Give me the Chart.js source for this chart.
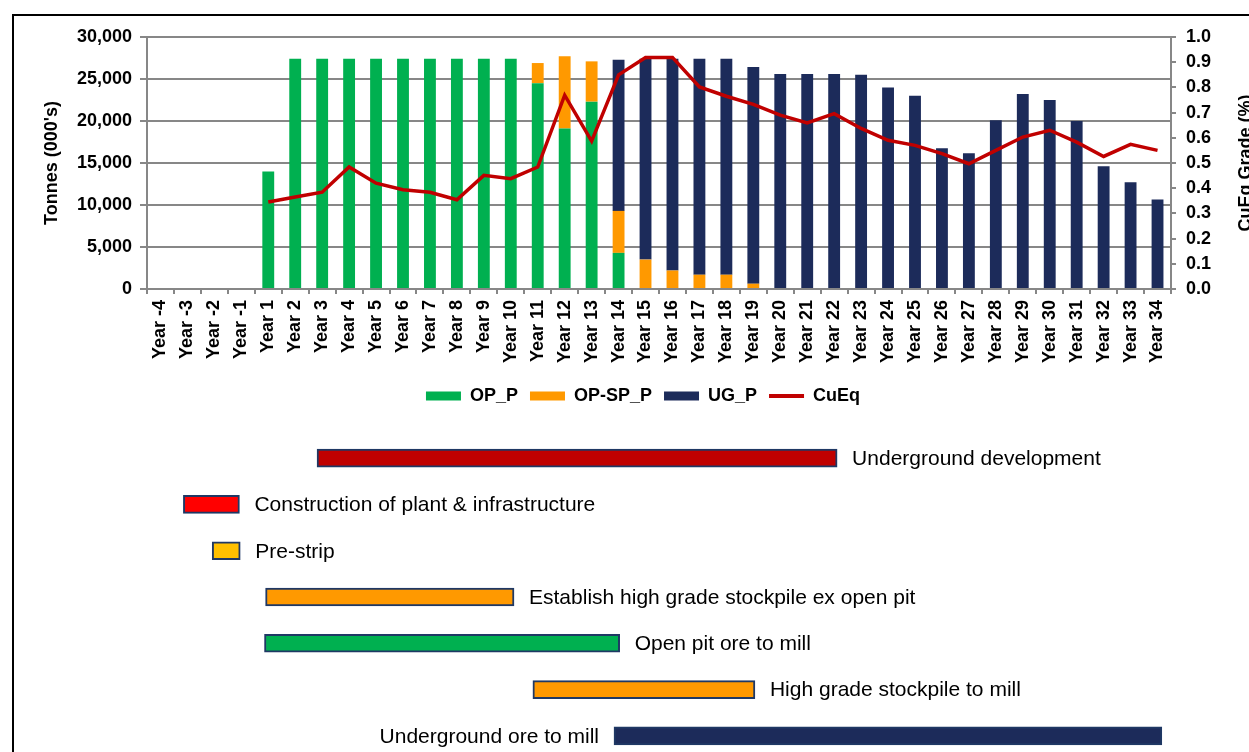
<!DOCTYPE html>
<html>
<head>
<meta charset="utf-8">
<script src="https://cdn.jsdelivr.net/npm/chart.js@4/dist/chart.umd.min.js"></script>
<style>
  html, body { margin: 0; padding: 0; background: #fff; width: 1249px; height: 752px; overflow: hidden; }
  #frame { position: absolute; left: 12px; top: 14px; width: 1300px; height: 800px; border: 2px solid #000; box-sizing: border-box; }
  #top { position: absolute; left: 0; top: 0; }
  #gantt { position: absolute; left: 0; top: 430px; }
</style>
</head>
<body>
<div id="frame"></div>
<canvas id="top" width="1249" height="420"></canvas>
<canvas id="gantt" width="1249" height="330"></canvas>
<script>
// ---------- data ----------
const years = ['Year -4','Year -3','Year -2','Year -1','Year 1','Year 2','Year 3','Year 4','Year 5','Year 6','Year 7','Year 8','Year 9','Year 10','Year 11','Year 12','Year 13','Year 14','Year 15','Year 16','Year 17','Year 18','Year 19','Year 20','Year 21','Year 22','Year 23','Year 24','Year 25','Year 26','Year 27','Year 28','Year 29','Year 30','Year 31','Year 32','Year 33','Year 34'];

const opP   = [0,0,0,0, 14000,27400,27400,27400,27400,27400,27400,27400,27400,27400, 24500,19100,22300,4300, 0,0,0,0,0, 0,0,0,0,0,0,0,0,0,0,0,0,0,0,0];
const opSpP = [0,0,0,0, 0,0,0,0,0,0,0,0,0,0, 2400,8600,4800,5000, 3500,2200,1700,1700,630, 0,0,0,0,0,0,0,0,0,0,0,0,0,0,0];
const ugP   = [0,0,0,0, 0,0,0,0,0,0,0,0,0,0, 0,0,0,18000, 23900,25200,25700,25700,25800, 25600,25600,25600,25500,24000,23000,16750,16150,20100,23200,22500,20000,14600,12700,10660];
const cuEq  = [null,null,null,null, 0.345,0.365,0.384,0.484,0.420,0.394,0.384,0.354,0.451,0.438,0.484,0.769,0.587,0.850,0.919,0.919,0.802,0.765,0.733,0.690,0.659,0.696,0.637,0.590,0.570,0.537,0.497,0.550,0.603,0.630,0.583,0.526,0.574,0.550];

const seriesNames = ['OP_P', 'OP-SP_P', 'UG_P', 'CuEq'];
const leftAxisTitle = "Tonnes (000's)";
const rightAxisTitle = 'CuEq Grade (%)';

// Gantt schedule (positions in year-column units of the chart above)
const ganttTasks = ['Underground development','Construction of plant & infrastructure','Pre-strip','Establish high grade stockpile ex open pit','Open pit ore to mill','High grade stockpile to mill','Underground ore to mill'];
const ganttStart = [6.31, 1.35, 2.42, 4.40, 4.36, 14.32, 17.33];
const ganttEnd   = [25.61, 3.43, 3.46, 13.62, 17.54, 22.56, 37.66];
const ganttLabelSide = ['right','right','right','right','right','right','left'];

// ---------- styles ----------
const FONT = "'Liberation Sans', Arial, sans-serif";
const GREEN = '#00B050', ORANGE = '#FF9900', NAVY = '#1C2B5A', DARKRED = '#C00000';
const GRID = '#878787';
const ganttColors = [DARKRED, '#FF0000', '#FFC000', ORANGE, GREEN, ORANGE, NAVY];

Chart.defaults.font.family = FONT;
Chart.defaults.color = '#000';

const rightTitlePlugin = {
  id: 'rightTitle',
  afterDraw(chart) {
    const ctx = chart.ctx, a = chart.chartArea;
    ctx.save();
    ctx.font = 'bold 18px ' + FONT;
    ctx.fillStyle = '#000';
    ctx.textAlign = 'center';
    ctx.textBaseline = 'middle';
    ctx.translate(1246, (a.top + a.bottom) / 2);
    ctx.rotate(-Math.PI / 2);
    ctx.fillText(rightAxisTitle, 0, 0);
    ctx.restore();
  }
};

new Chart(document.getElementById('top'), {
  type: 'bar',
  data: {
    labels: years,
    datasets: [
      { label: seriesNames[0], data: opP, backgroundColor: GREEN, yAxisID: 'y', order: 1, stack: 's' },
      { label: seriesNames[1], data: opSpP, backgroundColor: ORANGE, yAxisID: 'y', order: 1, stack: 's' },
      { label: seriesNames[2], data: ugP, backgroundColor: NAVY, yAxisID: 'y', order: 1, stack: 's' },
      { label: seriesNames[3], data: cuEq, type: 'line', borderColor: DARKRED, backgroundColor: DARKRED,
        borderWidth: 3.5, pointRadius: 0, tension: 0, yAxisID: 'y1', order: 0, spanGaps: false }
    ]
  },
  options: {
    responsive: false,
    animation: false,
    devicePixelRatio: 1,
    layout: { padding: { left: 37, right: 0, top: 37, bottom: 5 } },
    datasets: { bar: { categoryPercentage: 1, barPercentage: 0.44 } },
    scales: {
      x: {
        stacked: true,
        offset: true,
        grid: { offset: true, drawOnChartArea: false, color: GRID, lineWidth: 2, tickLength: 5 },
        border: { display: true, color: GRID, width: 2 },
        ticks: { autoSkip: false, minRotation: 90, maxRotation: 90, padding: 6, font: { size: 18, weight: 'bold' }, color: '#000' },
        afterFit(s) { s.height = 86; }
      },
      y: {
        position: 'left',
        stacked: true,
        min: 0, max: 30000,
        ticks: { stepSize: 5000, padding: 8, font: { size: 18, weight: 'bold' }, color: '#000',
                 callback: v => Number(v).toLocaleString('en-US') },
        grid: { color: GRID, lineWidth: 2, tickLength: 7 },
        border: { display: true, color: GRID, width: 2 },
        title: { display: true, text: leftAxisTitle, font: { size: 18, weight: 'bold' }, color: '#000' },
        afterFit(s) { s.width = 110; }
      },
      y1: {
        position: 'right',
        min: 0, max: 1,
        ticks: { stepSize: 0.1, padding: 10, font: { size: 18, weight: 'bold' }, color: '#000',
                 callback: v => Number(v).toFixed(1) },
        grid: { drawOnChartArea: false, color: GRID, lineWidth: 2, tickLength: 5 },
        border: { display: true, color: GRID, width: 2 },
        afterFit(s) { s.width = 78; }
      }
    },
    plugins: {
      legend: {
        position: 'bottom',
        labels: {
          usePointStyle: true,
          pointStyleWidth: 35,
          boxHeight: 9,
          padding: 12,
          font: { size: 18, weight: 'bold' },
          color: '#000',
          sort: (a, b) => a.datasetIndex - b.datasetIndex,
          generateLabels(chart) {
            return chart.data.datasets.map((ds, i) => ({
              text: ds.label,
              datasetIndex: i,
              fillStyle: ds.type === 'line' ? ds.borderColor : ds.backgroundColor,
              strokeStyle: ds.type === 'line' ? ds.borderColor : ds.backgroundColor,
              lineWidth: ds.type === 'line' ? 4 : 0,
              pointStyle: ds.type === 'line' ? 'line' : 'rect',
              hidden: false,
              fontColor: '#000'
            }));
          }
        }
      },
      tooltip: { enabled: false }
    }
  },
  plugins: [rightTitlePlugin]
});

const ganttLabelPlugin = {
  id: 'ganttLabels',
  afterDatasetsDraw(chart) {
    const ctx = chart.ctx;
    const meta = chart.getDatasetMeta(0);
    ctx.save();
    ctx.font = '21px ' + FONT;
    ctx.fillStyle = '#000';
    ctx.textBaseline = 'middle';
    meta.data.forEach((el, i) => {
      const p = el.getProps(['x', 'y', 'base'], true);
      const left = Math.min(p.x, p.base), right = Math.max(p.x, p.base);
      if (ganttLabelSide[i] === 'left') {
        ctx.textAlign = 'right';
        ctx.fillText(chart.data.labels[i], left - 15, p.y + 1);
      } else {
        ctx.textAlign = 'left';
        ctx.fillText(chart.data.labels[i], right + 15, p.y + 1);
      }
    });
    ctx.restore();
  }
};

new Chart(document.getElementById('gantt'), {
  type: 'bar',
  data: {
    labels: ganttTasks,
    datasets: [{
      data: ganttStart.map((s, i) => [s, ganttEnd[i]]),
      backgroundColor: ganttColors,
      borderColor: '#1F3864',
      borderWidth: 2,
      borderSkipped: false,
      barThickness: 18
    }]
  },
  options: {
    indexAxis: 'y',
    responsive: false,
    animation: false,
    devicePixelRatio: 1,
    layout: { padding: { left: 147, right: 78, top: 5, bottom: 1 } },
    scales: {
      x: { type: 'linear', min: 0, max: 38, display: false },
      y: { type: 'category', display: false, offset: true }
    },
    plugins: { legend: { display: false }, tooltip: { enabled: false } }
  },
  plugins: [ganttLabelPlugin]
});
</script>
</body>
</html>
